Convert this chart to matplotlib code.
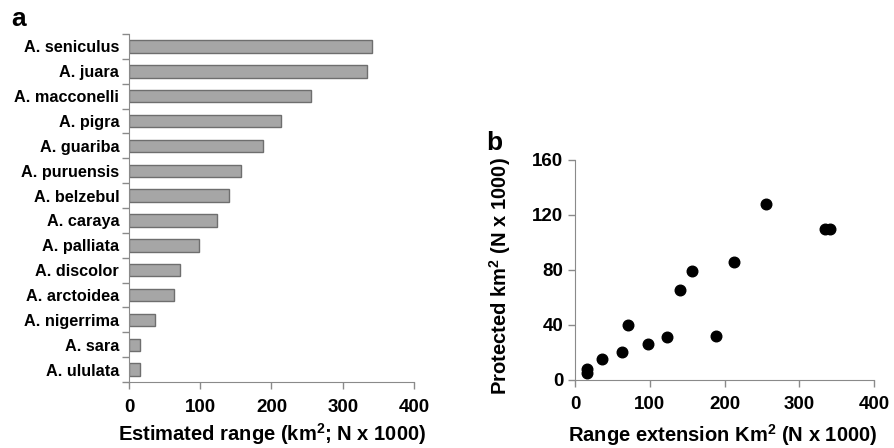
import matplotlib
matplotlib.use("Agg")
import matplotlib.pyplot as plt
import numpy as np

species = ["A. seniculus", "A. juara", "A. macconelli", "A. pigra", "A. guariba",
           "A. puruensis", "A. belzebul", "A. caraya", "A. palliata", "A. discolor",
           "A. arctoidea", "A. nigerrima", "A. sara", "A. ululata"]
est_range = [341, 334, 255, 213, 188, 157, 141, 123, 98, 71, 63, 36, 16, 16]
protected = [110, 110, 128, 86, 32, 79, 65, 31, 26, 40, 20, 15, 8, 5]
range_ticks = [0, 100, 200, 300, 400]
protected_ticks = [0, 40, 80, 120, 160]

plt.rcParams["font.family"] = ["Liberation Sans", "DejaVu Sans"]
plt.rcParams["font.weight"] = "bold"
plt.rcParams["mathtext.fontset"] = "custom"
plt.rcParams["mathtext.bf"] = "Liberation Sans:bold"
plt.rcParams["mathtext.rm"] = "Liberation Sans:bold"

fig = plt.figure(figsize=(8.95, 4.48), dpi=100)
spine_col = "#8a8a8a"
label_size = 14.5

# Panel a: horizontal bars of estimated range
ax1 = fig.add_axes([0.1441, 0.1473, 0.3185, 0.7767])
ypos = np.arange(len(species))
ax1.barh(ypos, est_range, height=0.5, color="#a6a6a6", edgecolor="#6e6e6e", linewidth=1.0)
ax1.set_ylim(len(species) - 0.5, -0.5)
ax1.set_xlim(0, 400)
ax1.set_yticks(ypos)
ax1.set_yticklabels(species, fontsize=11.7, fontweight="bold")
ax1.tick_params(axis="y", which="major", length=0, pad=7)
ax1.set_yticks(np.arange(len(species) + 1) - 0.5, minor=True)
ax1.tick_params(axis="y", which="minor", length=5, color=spine_col, width=1)
ax1.set_xticks(range_ticks)
ax1.set_xticklabels([str(t) for t in range_ticks], fontsize=13.5, fontweight="bold")
ax1.tick_params(axis="x", length=5, color=spine_col, width=1, pad=7)
for s in ["top", "right"]:
    ax1.spines[s].set_visible(False)
for s in ["left", "bottom"]:
    ax1.spines[s].set_color(spine_col)
fig.text(0.3045, 0.032, "Estimated range (km$^{2}$; N x 1000)", fontsize=label_size,
         fontweight="bold", ha="center", va="center")

# Panel b: protected area vs range extension
ax2 = fig.add_axes([0.6425, 0.1525, 0.334, 0.4905])
ax2.scatter(est_range, protected, s=58, color="black", zorder=3, clip_on=False)
ax2.set_xlim(0, 400)
ax2.set_ylim(0, 160)
ax2.set_xticks(range_ticks)
ax2.set_xticklabels([str(t) for t in range_ticks], fontsize=13.5, fontweight="bold")
ax2.set_yticks(protected_ticks)
ax2.set_yticklabels([str(t) for t in protected_ticks], fontsize=13.5, fontweight="bold")
ax2.tick_params(axis="both", length=5, color=spine_col, width=1)
ax2.tick_params(axis="x", pad=7)
for s in ["top", "right"]:
    ax2.spines[s].set_visible(False)
for s in ["left", "bottom"]:
    ax2.spines[s].set_color(spine_col)
fig.text(0.808, 0.03, "Range extension Km$^{2}$ (N x 1000)", fontsize=label_size,
         fontweight="bold", ha="center", va="center")
fig.text(0.5587, 0.384, "Protected km$^{2}$ (N x 1000)", fontsize=label_size,
         fontweight="bold", ha="center", va="center", rotation=90)

fig.text(0.013, 0.943, "a", fontsize=19, fontweight="bold")
fig.text(0.543, 0.665, "b", fontsize=19, fontweight="bold")

fig.savefig("out.png", dpi=100)
